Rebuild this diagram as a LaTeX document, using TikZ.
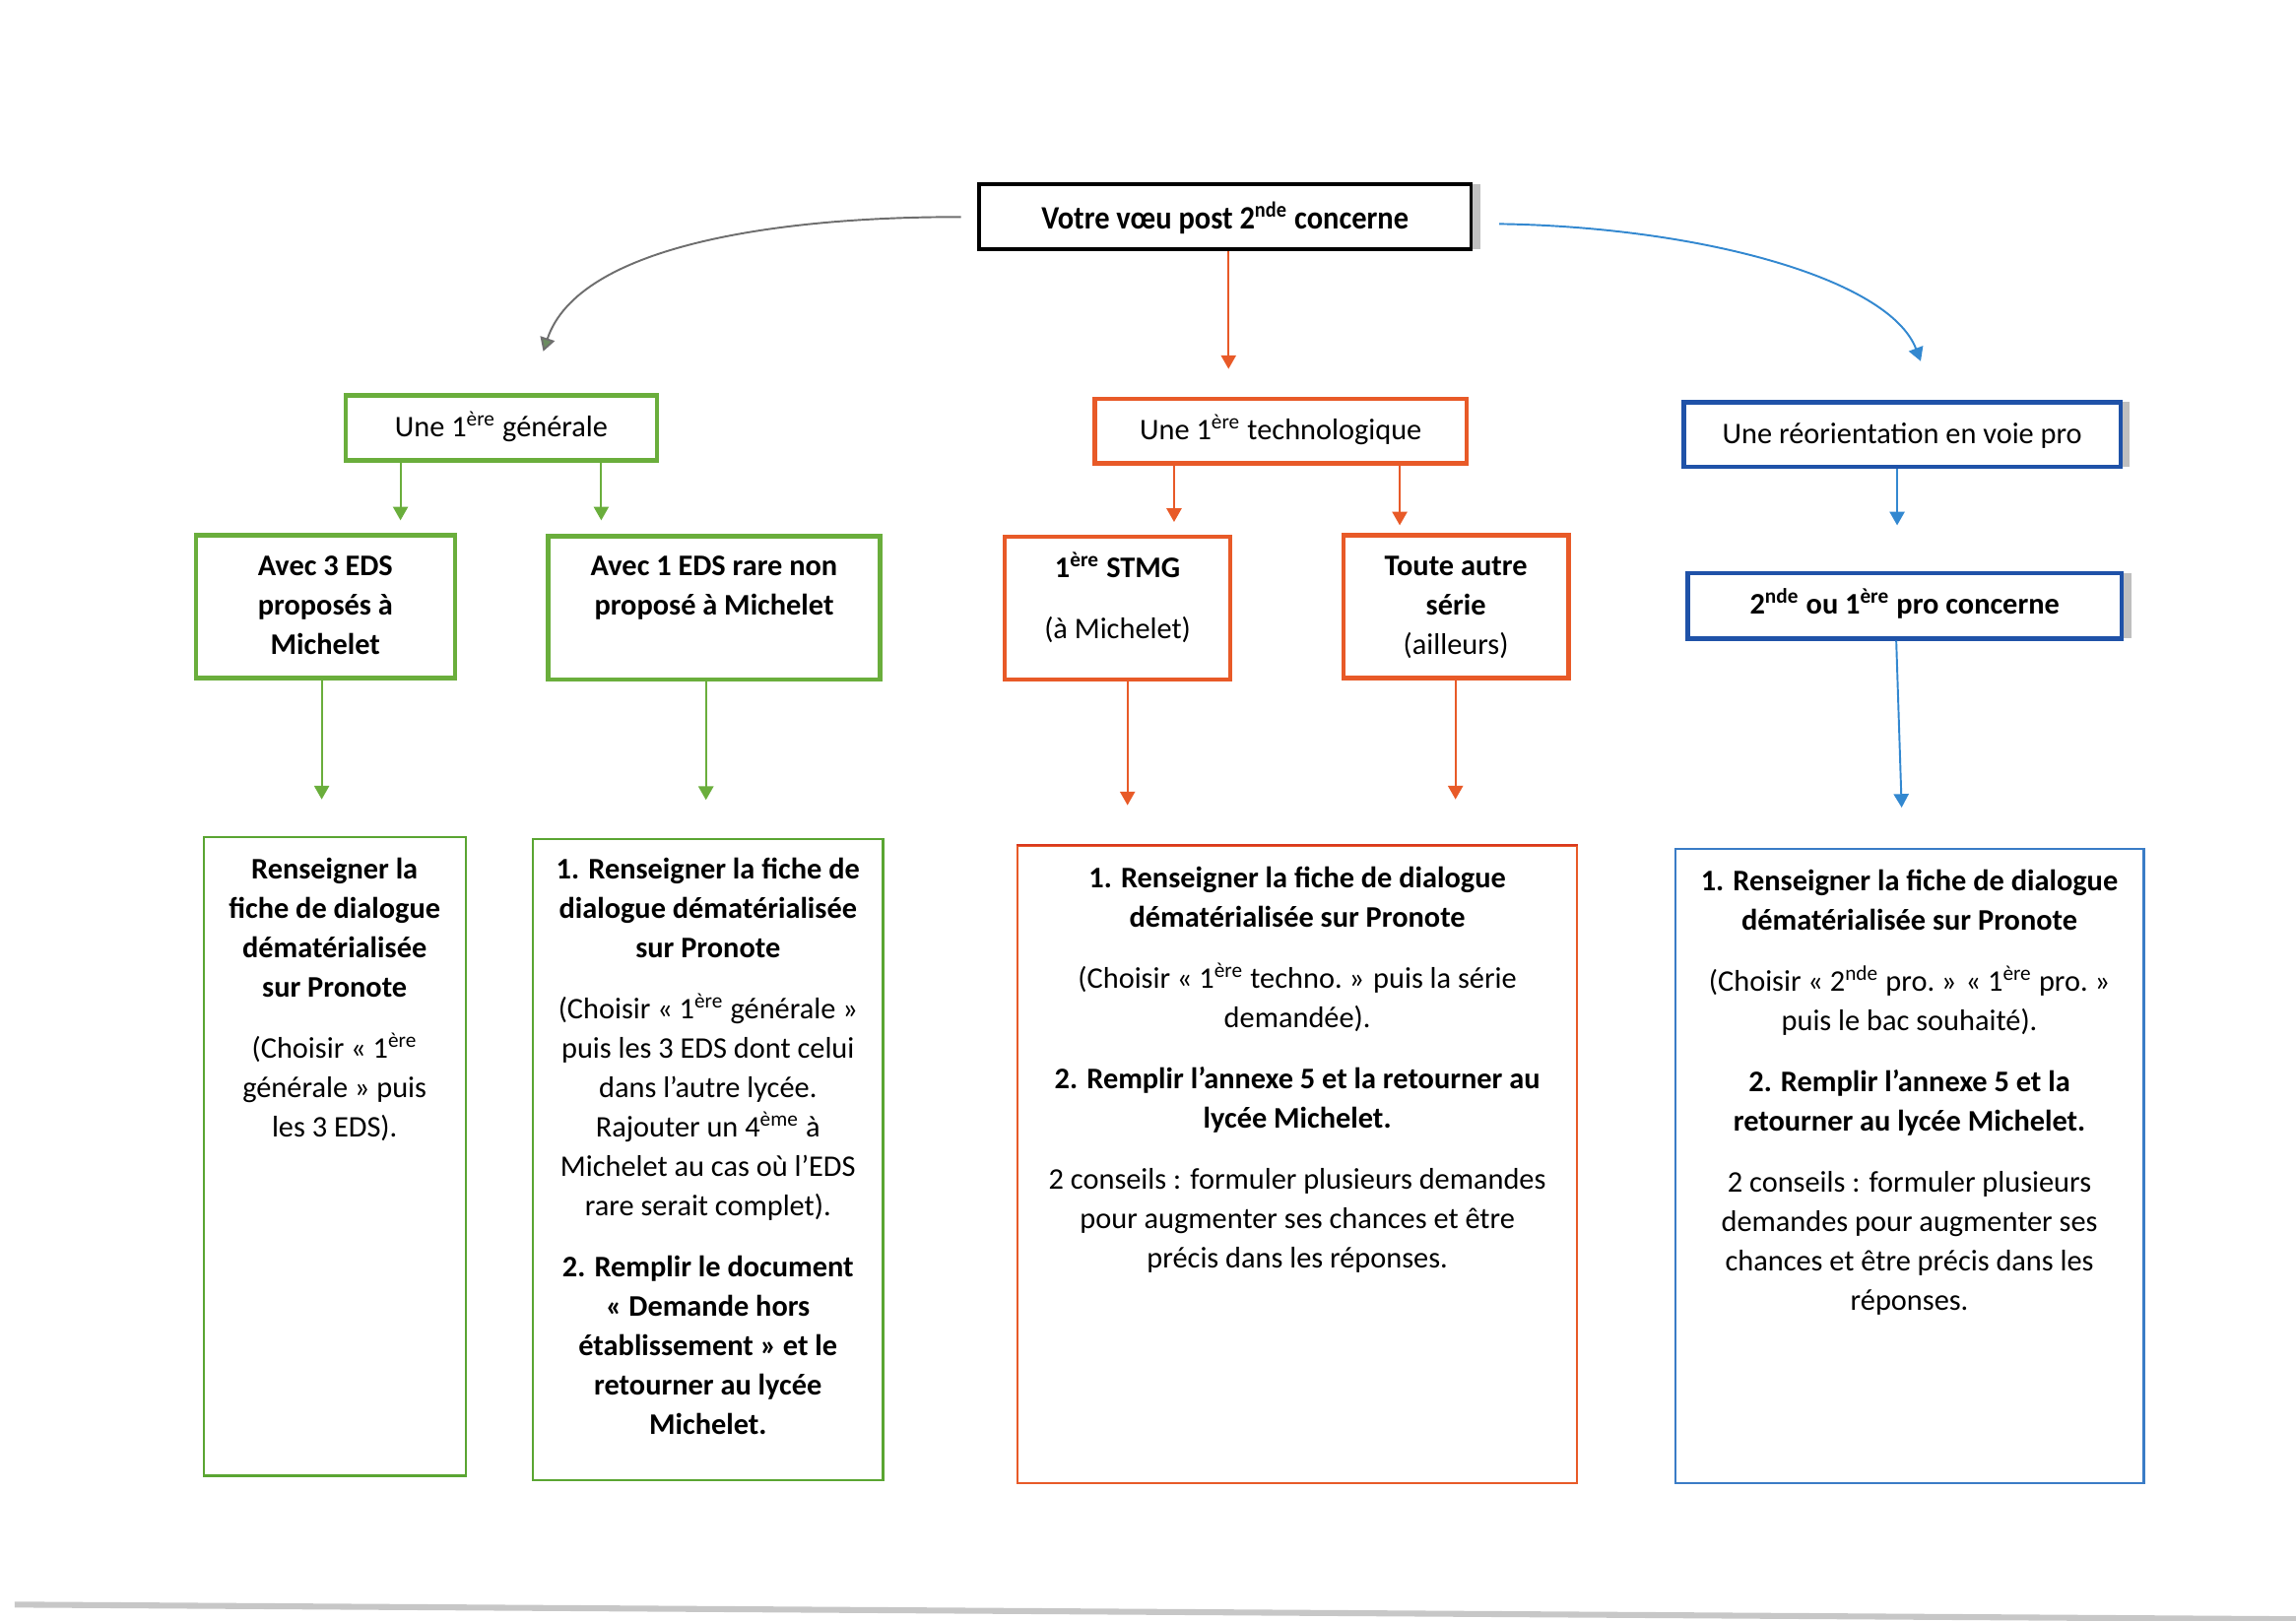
\documentclass[tikz,border=0pt]{standalone}
\usepackage{fontspec}
\setmainfont{Carlito}
\newfontfamily\titlefont[FakeStretch=0.92]{Carlito}
\usetikzlibrary{arrows.meta,fit,shadows}

\definecolor{gr}{HTML}{6AAE3C}
\definecolor{grthin}{HTML}{5AA532}
\definecolor{og}{HTML}{E85A28}
\definecolor{ogred}{HTML}{D9381E}
\definecolor{db}{HTML}{1F52A8}
\definecolor{lb}{HTML}{3388D0}
\definecolor{lbbox}{HTML}{3A7CC6}
\definecolor{gy}{HTML}{6E6E6E}
\definecolor{gyhead}{HTML}{6B8C60}

\begin{document}
\begin{tikzpicture}[x=0.018941cm,y=-0.018941cm,
  every node/.style={font=\fontsize{11}{14.5}\selectfont, inner sep=0pt},
  box/.style={draw, line width=1.6pt, inner sep=0pt, fill=white},
  thinbox/.style={draw, line width=0.8pt, inner sep=0pt},
  shad/.style={drop shadow={shadow xshift=3.4pt, shadow yshift=0pt, fill=black!50, opacity=0.5}},
  txt/.style={anchor=north, align=center},
  ctxt/.style={anchor=base, yshift=-0.114cm},
  arr/.style={line width=0.7pt, -{Triangle[width=5.5pt,length=5pt]}},
]
\useasboundingbox (0,0) rectangle (1568,1107.2);

% level 1
\node[box, draw=black, line width=1.4pt, shad, fit={(668.6,126) (1004.6,170.4)}] (top) {};
\node[anchor=base, yshift=-0.16cm, font=\fontsize{12}{14}\selectfont\titlefont\bfseries] (topt) at (top.center) {Votre vœu post 2\textsuperscript{nde} concerne};

% level 2
\node[box, draw=gr, fit={(236,270.2) (448.7,314.4)}] (gen) {};
\node[ctxt] (gent) at (gen.center) {Une 1\textsuperscript{ère} générale};
\node[box, draw=og, fit={(747.8,272.4) (1001.5,316.6)}] (tech) {};
\node[ctxt] (techt) at (tech.center) {Une 1\textsuperscript{ère} technologique};
\node[box, draw=db, shad, fit={(1149.8,274.7) (1448.3,318.8)}] (pro) {};
\node[ctxt] (prot) at (pro.center) {Une réorientation en voie pro};

% level 3
\node[box, draw=gr, fit={(133.8,365.5) (310.6,463)}] (eds3) {};
\node[txt] (eds3t) at (222.2,374) {\strut\textbf{Avec 3 EDS}\\\textbf{proposés à}\\\textbf{Michelet}};
\node[box, draw=gr, fit={(374.4,366.2) (601,464.2)}] (eds1) {};
\node[txt] (eds1t) at (487.7,374) {\strut\textbf{Avec 1 EDS rare non}\\\textbf{proposé à Michelet}};
\node[box, draw=og, fit={(686.2,366.6) (840.3,464.2)}] (stmg) {};
\node[txt] (stmgt) at (763.2,375.5) {\strut\textbf{1\textsuperscript{ère} STMG}\\[8pt](à Michelet)};
\node[box, draw=og, fit={(917.4,365.5) (1071.2,463)}] (autre) {};
\node[txt] (autret) at (994.3,374) {\strut\textbf{Toute autre}\\\textbf{série}\\(ailleurs)};
\node[box, draw=db, shad, fit={(1152.5,391.3) (1449,436.1)}] (pro2) {};
\node[ctxt, yshift=0.01cm] (pro2t) at (pro2.center) {\textbf{2\textsuperscript{nde} ou 1\textsuperscript{ère} pro concerne}};

% level 4
\node[thinbox, draw=grthin, fit={(139,572) (318,1008)}] (r1) {};
\node[txt] (r1t) at (228.5,581) {\strut\textbf{Renseigner la}\\
\textbf{fiche de dialogue}\\
\textbf{dématérialisée}\\
\textbf{sur Pronote}\\[8pt]
(Choisir «~1\textsuperscript{ère}\\
générale~» puis\\
les 3 EDS).};

\node[thinbox, draw=grthin, fit={(364,573) (603,1011)}] (r2) {};
\node[txt] (r2t) at (483.5,581) {\strut\textbf{1. Renseigner la fiche de}\\
\textbf{dialogue dématérialisée}\\
\textbf{sur Pronote}\\[8pt]
(Choisir «~1\textsuperscript{ère} générale~»\\
puis les 3 EDS dont celui\\
dans l’autre lycée.\\
Rajouter un 4\textsuperscript{ème} à\\
Michelet au cas où l’EDS\\
rare serait complet).\\[8pt]
\textbf{2. Remplir le document}\\
\textbf{«~Demande hors}\\
\textbf{établissement~» et le}\\
\textbf{retourner au lycée}\\
\textbf{Michelet.}};

\node[thinbox, draw=og, fit={(695,578) (1077,1013)}] (r3) {};
\draw[ogred, line width=0.9pt] (r3.north west) -- (r3.north east);
\node[txt] (r3t) at (886,587) {\strut\textbf{1. Renseigner la fiche de dialogue}\\
\textbf{dématérialisée sur Pronote}\\[8pt]
(Choisir «~1\textsuperscript{ère} techno.~» puis la série\\
demandée).\\[8pt]
\textbf{2. Remplir l’annexe 5 et la retourner au}\\
\textbf{lycée Michelet.}\\[8pt]
2 conseils : formuler plusieurs demandes\\
pour augmenter ses chances et être\\
précis dans les réponses.};

\node[thinbox, draw=lbbox, fit={(1144,580) (1464,1013)}] (r4) {};
\node[txt] (r4t) at (1304,589) {\strut\textbf{1. Renseigner la fiche de dialogue}\\
\textbf{dématérialisée sur Pronote}\\[8pt]
(Choisir «~2\textsuperscript{nde} pro.~» «~1\textsuperscript{ère} pro.~»\\
puis le bac souhaité).\\[8pt]
\textbf{2. Remplir l’annexe 5 et la}\\
\textbf{retourner au lycée Michelet.}\\[8pt]
2 conseils : formuler plusieurs\\
demandes pour augmenter ses\\
chances et être précis dans les\\
réponses.};

% arrow end points
\coordinate (cl) at (371,240);
\coordinate (cc) at (839,252);
\coordinate (cr) at (1311.7,246.7);
\coordinate (agl) at (273.5,355.4);
\coordinate (agr) at (410.6,355.4);
\coordinate (atl) at (801.8,356.5);
\coordinate (atr) at (955.9,358.8);
\coordinate (ap) at (1295.6,358.8);
\coordinate (a31) at (219.7,546);
\coordinate (a32) at (482.1,546.4);
\coordinate (a33) at (770,550);
\coordinate (a34) at (994,546);
\coordinate (a35) at (1298.7,551.6);

% connectors
\draw[arr, gy, -{Triangle[width=5.5pt,length=5pt,fill=gyhead]}]
  ([xshift=-0.21cm]top.west) .. controls (530,148) and (395,168) .. (cl);
\draw[arr, og] (top.south -| cc) -- (cc);
\draw[arr, lb] ([xshift=0.34cm,yshift=-0.09cm]top.east) .. controls (1160,155) and (1290,190) .. (cr);

\draw[arr, gr] (gen.south -| agl) -- (agl);
\draw[arr, gr] (gen.south -| agr) -- (agr);
\draw[arr, og] (tech.south -| atl) -- (atl);
\draw[arr, og] (tech.south -| atr) -- (atr);
\draw[arr, lb] (pro.south -| ap) -- (ap);

\draw[arr, gr] (eds3.south -| a31) -- (a31);
\draw[arr, gr] (eds1.south -| a32) -- (a32);
\draw[arr, og] (stmg.south -| a33) -- (a33);
\draw[arr, og] (autre.south -| a34) -- (a34);
\draw[arr, lb] ([xshift=-0.109cm]pro2.south) -- (a35);

% scan edge line
\draw[line width=2.2pt, black!22] (10,1096) -- (1568,1106);
\end{tikzpicture}
\end{document}
